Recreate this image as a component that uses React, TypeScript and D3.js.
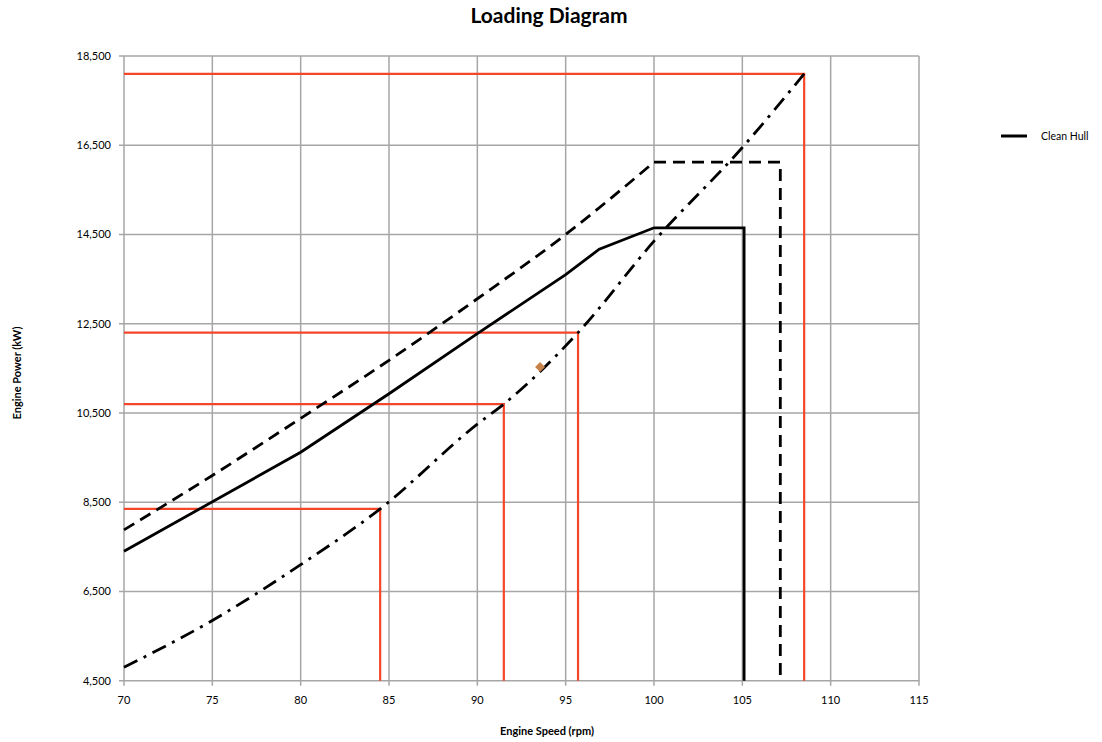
import React from "react";
import * as d3 from "d3";

// Engine loading diagram: speed (rpm) vs power (kW)
const xTicks = [70, 75, 80, 85, 90, 95, 100, 105, 110, 115];
const yTicks = [4500, 6500, 8500, 10500, 12500, 14500, 16500, 18500];

// Clean hull curve (solid)
const cleanHullRpm = [70, 80, 85, 90, 95, 96.9, 100, 105.1, 105.1];
const cleanHullKw = [7400, 9620, 10930, 12280, 13600, 14170, 14650, 14650, 4500];

// Upper limit curve (dashed)
const limitRpm = [70, 75, 80, 85, 90, 95, 100, 107.15, 107.15];
const limitKw = [7880, 9100, 10380, 11680, 13060, 14500, 16120, 16120, 4500];

// Propeller curve (dash-dot)
const propRpm = [70, 75, 80, 84.5, 90, 91.5, 95.7, 100, 105, 108.5];
const propKw = [4800, 5850, 7100, 8350, 10250, 10700, 12300, 14350, 16450, 18100];

// Operating points (red guides)
const opRpm = [84.5, 91.5, 95.7, 108.5];
const opKw = [8350, 10700, 12300, 18100];

// Single measured point
const markerRpm = 93.55;
const markerKw = 11530;

const W = 1102;
const H = 742;
const left = 124;
const right = 919;
const top = 56;
const bottom = 680.7;

const FONT = "Lato, 'Open Sans', sans-serif";

export default function App() {
  const x = d3.scaleLinear().domain([70, 115]).range([left, right]);
  const y = d3.scaleLinear().domain([4500, 18500]).range([bottom, top]);

  const line = d3
    .line<[number, number]>()
    .x((d) => x(d[0]))
    .y((d) => y(d[1]));
  const smooth = d3
    .line<[number, number]>()
    .x((d) => x(d[0]))
    .y((d) => y(d[1]))
    .curve(d3.curveMonotoneX);

  const clean = cleanHullRpm.map((r, i) => [r, cleanHullKw[i]] as [number, number]);
  const limitCurve = limitRpm.slice(0, 7).map((r, i) => [r, limitKw[i]] as [number, number]);
  const limitRest = limitRpm.slice(6).map((r, i) => [r, limitKw[i + 6]] as [number, number]);
  const prop = propRpm.map((r, i) => [r, propKw[i]] as [number, number]);

  const gridColor = "#a6a6a6";
  const red = "#f4472a";

  return (
    <svg
      width={W}
      height={H}
      style={{ position: "absolute", left: 0, top: 0, background: "#fff" }}
      fontFamily={FONT}
    >
      <rect width={W} height={H} fill="#fff" />
      <text x={549} y={23} textAnchor="middle" fontSize={21} fontWeight={700} fill="#000">
        Loading Diagram
      </text>

      {/* grid */}
      {xTicks.map((t) => (
        <g key={"x" + t}>
          <line x1={x(t)} x2={x(t)} y1={top} y2={bottom + 5} stroke={gridColor} strokeWidth={1.5} />
          <text x={x(t)} y={704} textAnchor="middle" fontSize={11} fill="#000">
            {t}
          </text>
        </g>
      ))}
      {yTicks.map((t) => (
        <g key={"y" + t}>
          <line x1={left - 5} x2={right} y1={y(t)} y2={y(t)} stroke={gridColor} strokeWidth={1.5} />
          <text x={111} y={y(t) + 4} textAnchor="end" fontSize={11} fill="#000">
            {d3.format(",")(t)}
          </text>
        </g>
      ))}

      {/* operating point guides */}
      {opRpm.map((r, i) => (
        <path
          key={"op" + i}
          d={line([
            [70, opKw[i]],
            [r, opKw[i]],
            [r, 4500],
          ])!}
          fill="none"
          stroke={red}
          strokeWidth={2.2}
        />
      ))}

      {/* upper limit */}
      <path d={smooth(limitCurve)!} fill="none" stroke="#000" strokeWidth={2.8} strokeDasharray="12 7" />
      <path d={line(limitRest)!} fill="none" stroke="#000" strokeWidth={2.8} strokeDasharray="12 7" />

      {/* propeller curve */}
      <path
        d={smooth(prop)!}
        fill="none"
        stroke="#000"
        strokeWidth={2.8}
        strokeDasharray="15 7 3 7"
      />

      {/* clean hull */}
      <path d={line(clean)!} fill="none" stroke="#000" strokeWidth={2.8} strokeLinejoin="miter" />

      {/* measured point */}
      <path
        d={d3.symbol(d3.symbolSquare, 50)()!}
        transform={`translate(${x(markerRpm)},${y(markerKw)}) rotate(45)`}
        fill="#c8834a"
      />

      {/* axis titles */}
      <text x={547} y={735} textAnchor="middle" fontSize={11} fontWeight={700} fill="#000">
        Engine Speed (rpm)
      </text>
      <text
        transform={`translate(21,373) rotate(-90)`}
        textAnchor="middle"
        fontSize={11}
        fontWeight={700}
        fill="#000"
      >
        Engine Power (kW)
      </text>

      {/* legend */}
      <line x1={1001} x2={1027} y1={136} y2={136} stroke="#000" strokeWidth={3} />
      <text x={1041} y={140} fontSize={10.5} fill="#000">
        Clean Hull
      </text>
    </svg>
  );
}
